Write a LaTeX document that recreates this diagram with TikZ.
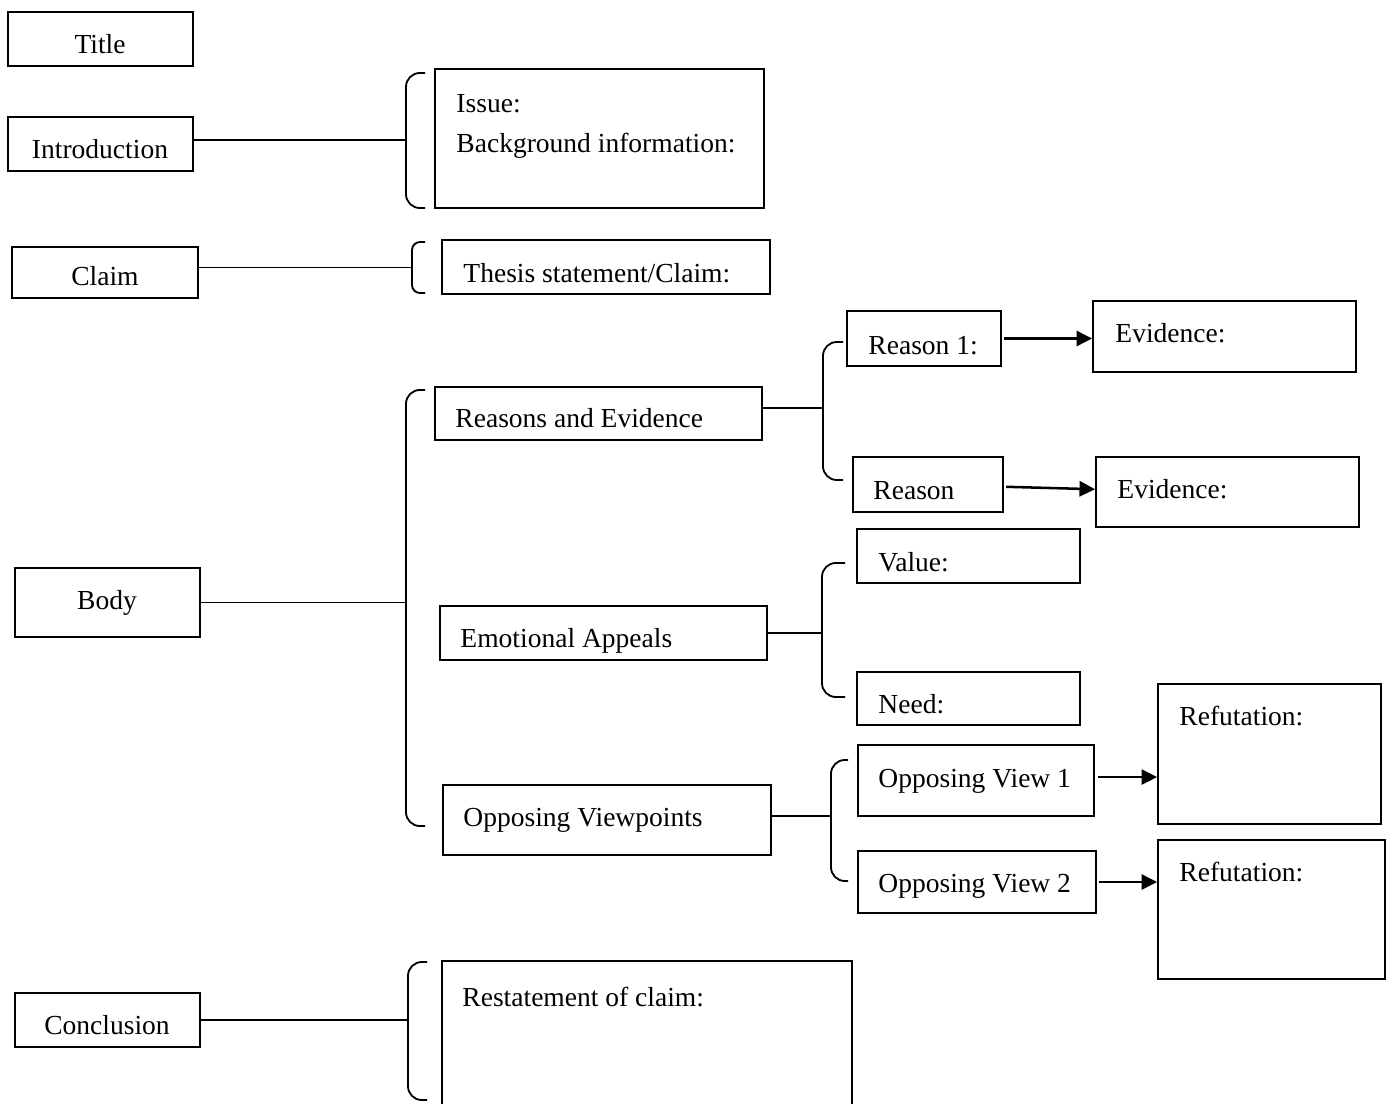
\documentclass[tikz,border=0pt]{standalone}
\usepackage{fontspec}
\setmainfont{Liberation Serif}
\usetikzlibrary{arrows.meta,fit}

\begin{document}
\begin{tikzpicture}[
  x=0.436pt, y=-0.436pt,
  font=\fontsize{12}{14}\selectfont,
  box/.style={draw, line width=0.8pt, inner sep=0pt},
  txt/.style={inner sep=0pt, anchor=west, text height=8.5pt, text depth=0pt},
  mid/.style={inner sep=0pt, text height=8.5pt, text depth=0pt},
  link/.style={line width=0.8pt},
  brk/.style={line width=0.8pt, rounded corners=6pt},
  brks/.style={line width=0.8pt, rounded corners=3.5pt},
  go/.style={-{Triangle[length=6.8pt, width=6.6pt]}, line width=1.1pt}
]
\useasboundingbox (0,0) rectangle (1392,1104);

% left column
\node[box, fit={(8,12) (193,66)}] (title) {};
\node[mid] (t-title) at (100,44) {Title};
\node[box, fit={(8,117) (193,171)}] (intro) {};
\node[mid] (t-intro) at (100,149) {Introduction};
\node[box, fit={(12,247) (198,298)}] (claim) {};
\node[mid] (t-claim) at (105,276) {Claim};
\node[box, fit={(15,568) (200,637)}] (body) {};
\node[mid] (t-body) at (107,600) {Body};
\node[box, fit={(15,993) (200,1047)}] (concl) {};
\node[mid] (t-concl) at (107,1025) {Conclusion};

% introduction
\node[box, fit={(435,69) (764,208)}] (issue) {};
\node[txt] (t-issue) at (456,103) {Issue:};
\node[txt] (t-back) at (456,143) {Background information:};
\draw[brk] (425,73) -- (406,73) -- (406,208) -- (425,208);
\coordinate (bIntro) at (406,140);
\draw[link] ([yshift=1.7pt]intro.east) -- ([yshift=1.7pt]intro.east -| bIntro);

% claim
\node[box, fit={(442,240) (770,294)}] (thesis) {};
\node[txt] (t-thesis) at (463,273) {Thesis statement/Claim:};
\draw[brks] (425,242) -- (412,242) -- (412,293) -- (425,293);
\coordinate (bClaim) at (412,267);
\draw[link] ([yshift=2.2pt]claim.east) -- ([yshift=2.2pt]claim.east -| bClaim);

% body
\node[box, fit={(435,387) (762,440)}] (reas) {};
\node[txt] (t-reas) at (455,418) {Reasons and Evidence};
\node[box, fit={(440,606) (767,660)}] (emo) {};
\node[txt] (t-emo) at (460,638) {Emotional Appeals};
\node[box, fit={(443,785) (771,855)}] (opp) {};
\node[txt] (t-opp) at (463,817) {Opposing Viewpoints};
\draw[brk] (425,390) -- (406,390) -- (406,826) -- (425,826);
\coordinate (bBody) at (406,604);
\draw[link] (body.east) -- (body.east -| bBody);

% reasons and evidence
\node[box, fit={(847,311) (1001,366)}] (r1) {};
\node[txt] (t-r1) at (868,345) {Reason 1:};
\node[box, fit={(853,457) (1003,512)}] (r2) {};
\node[txt] (t-r2) at (873,490) {Reason};
\node[box, fit={(1093,301) (1356,372)}] (ev1) {};
\node[txt] (t-ev1) at (1115,333) {Evidence:};
\node[box, fit={(1096,457) (1359,527)}] (ev2) {};
\node[txt] (t-ev2) at (1117,489) {Evidence:};
\draw[brk] (843,342) -- (823,342) -- (823,480) -- (843,480);
\coordinate (bReas) at (823,408);
\draw[link] ([yshift=2.4pt]reas.east) -- ([yshift=2.4pt]reas.east -| bReas);
\draw[go] ([xshift=1pt]r1.east) -- (r1.east -| ev1.west);
\draw[go] ([xshift=1pt, yshift=-1pt]r2.east) -- ([yshift=1.2pt]ev2.west);

% emotional appeals
\node[box, fit={(857,529) (1080,583)}] (val) {};
\node[txt] (t-val) at (878,562) {Value:};
\node[box, fit={(857,672) (1080,725)}] (need) {};
\node[txt] (t-need) at (878,704) {Need:};
\draw[brk] (845,563) -- (822,563) -- (822,697) -- (845,697);
\coordinate (bEmo) at (822,632);
\draw[link] (emo.east) -- (emo.east -| bEmo);

% opposing viewpoints
\node[box, fit={(858,745) (1094,816)}] (ov1) {};
\node[txt] (t-ov1) at (878,778) {Opposing View 1};
\node[box, fit={(858,851) (1096,913)}] (ov2) {};
\node[txt] (t-ov2) at (878,883) {Opposing View 2};
\node[box, fit={(1158,684) (1381,824)}] (ref1) {};
\node[txt] (t-ref1) at (1179,716) {Refutation:};
\node[box, fit={(1158,840) (1385,979)}] (ref2) {};
\node[txt] (t-ref2) at (1179,872) {Refutation:};
\draw[brk] (848,760) -- (831,760) -- (831,881) -- (848,881);
\coordinate (bOpp) at (831,816);
\draw[link] ([yshift=1.7pt]opp.east) -- ([yshift=1.7pt]opp.east -| bOpp);
\draw[go] ([xshift=1.3pt, yshift=1.5pt]ov1.east) -- ([yshift=1.5pt]ov1.east -| ref1.west);
\draw[go] ([xshift=1pt]ov2.east) -- (ov2.east -| ref2.west);

% conclusion
\node[box, fit={(442,961) (852,1110)}] (restate) {};
\node[txt] (t-restate) at (462,997) {Restatement of claim:};
\draw[brk] (427,962) -- (408,962) -- (408,1100) -- (427,1100);
\coordinate (bConcl) at (408,1021);
\draw[link] (concl.east) -- (concl.east -| bConcl);
\end{tikzpicture}
\end{document}
